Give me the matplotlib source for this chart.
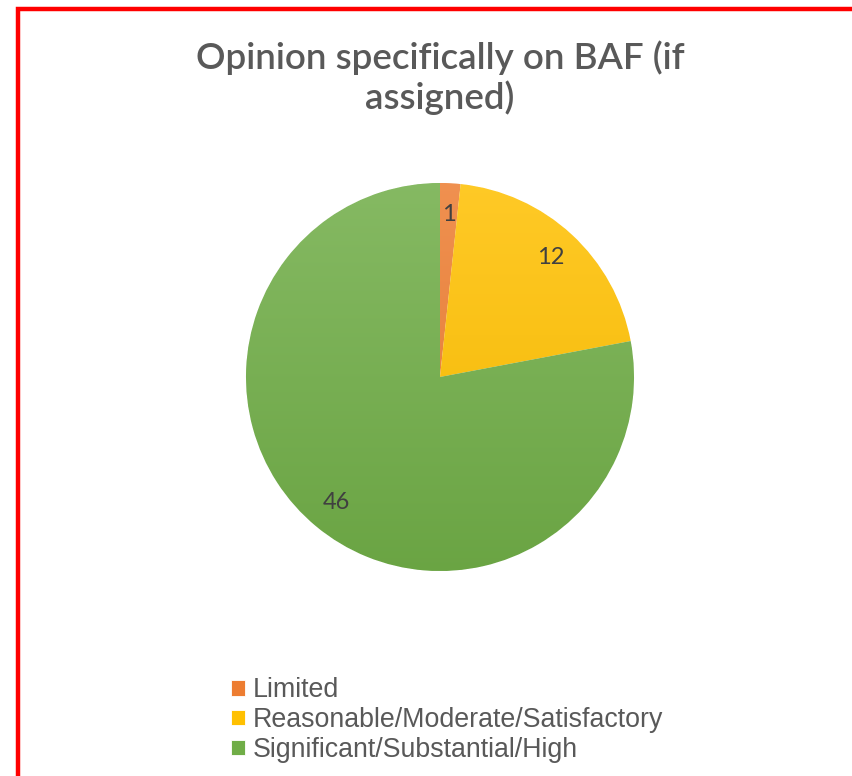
import matplotlib
matplotlib.use('Agg')
import numpy as np
import matplotlib.pyplot as plt
from matplotlib.colors import to_rgb
from matplotlib.patches import Rectangle


CATEGORIES = ['Limited', 'Reasonable/Moderate/Satisfactory', 'Significant/Substantial/High']
COUNTS = [1, 12, 46]
COLORS = ['#ED7D31', '#FFC000', '#70AD47']
TITLE = 'Opinion specifically on BAF (if\nassigned)'

W, H = 852, 776


def shade(color, top_light=0.15, bottom_dark=0.05, n=256):
    # vertical gradient, lighter at the top like Excel's default fill
    base = np.array(to_rgb(color))
    top = base + (1 - base) * top_light
    bottom = base * (1 - bottom_dark)
    t = np.linspace(0, 1, n)[:, None]
    grad = top * (1 - t) + bottom * t
    return grad[:, None, :]


def main():
    fig = plt.figure(figsize=(W / 100, H / 100), dpi=100)

    # red frame: only the left and top edges are visible in the image
    fig.patches.append(Rectangle((18 / W, -0.1), 1.2, 1.1 - 9 / H,
                                 transform=fig.transFigure, fill=False,
                                 edgecolor='#FF0000', linewidth=3.2))

    # pie centred at (440, 377) px with radius 194 px
    cx, cy, r = 440, 377, 194
    ax = fig.add_axes([(cx - r) / W, (H - cy - r) / H, 2 * r / W, 2 * r / H])
    wedges, texts = ax.pie(COUNTS, labels=[str(v) for v in COUNTS], colors=COLORS,
                           startangle=90, counterclock=False, labeldistance=0.84,
                           wedgeprops=dict(edgecolor='white', linewidth=0.6),
                           textprops=dict(fontsize=17, color='#404040', family='Lato'))
    for w, c in zip(wedges, COLORS):
        im = ax.imshow(shade(c), extent=(-1, 1, -1, 1), aspect='auto', zorder=w.get_zorder() + 0.1)
        im.set_clip_path(w)
    for t in texts:
        t.set_ha('center')
        t.set_va('center')
        t.set_zorder(5)
    ax.set_xlim(-1, 1)
    ax.set_ylim(-1, 1)
    ax.axis('off')

    fig.text(cx / W, 1 - 40 / H, TITLE, ha='center', va='top', fontsize=26.5,
             color='#595959', family='Lato', fontweight='semibold', linespacing=1.2)

    fig.legend(wedges, CATEGORIES, loc='upper left', bbox_to_anchor=(218 / W, 1 - 664 / H),
               frameon=False, borderpad=0, handlelength=0.5, handleheight=0.5,
               handletextpad=0.3, labelspacing=0.14,
               prop=dict(family='Liberation Sans', size=19.3),
               labelcolor='#595959')

    fig.savefig('out.png', dpi=100)


if __name__ == '__main__':
    main()
